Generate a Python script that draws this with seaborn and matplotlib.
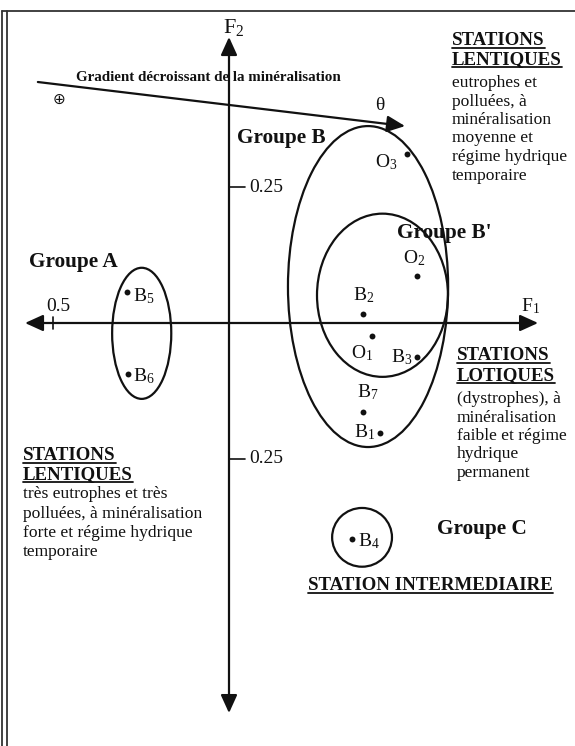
import matplotlib
matplotlib.use("Agg")
import matplotlib.pyplot as plt
import pandas as pd
import seaborn as sns
from matplotlib.patches import Ellipse

# Station coordinates on the first factorial plane (F1, F2)
stations = ["B1", "B2", "B3", "B4", "B5", "B6", "B7", "O1", "O2", "O3"]
f1 = [0.429, 0.381, 0.534, 0.349, -0.290, -0.287, 0.381, 0.406, 0.534, 0.506]
f2 = [-0.202, 0.017, -0.063, -0.397, 0.057, -0.094, -0.164, -0.024, 0.086, 0.311]

# Group envelopes: centre and extent in factor units
groups = ["A", "B", "B'", "C"]
group_f1 = [-0.248, 0.395, 0.436, 0.378]
group_f2 = [-0.019, 0.067, 0.051, -0.394]
group_w = [0.168, 0.455, 0.372, 0.170]
group_h = [0.241, 0.590, 0.300, 0.108]

# Axis graduations
f1_ticks = [-0.5]
f1_tick_labels = ["0.5"]
f2_ticks = [0.25, -0.25]
f2_tick_labels = ["0.25", "0.25"]

df = pd.DataFrame({"station": stations, "F1": f1, "F2": f2})

sns.set_theme(style="white")
plt.rcParams["font.family"] = ["Liberation Serif", "DejaVu Sans"]
plt.rcParams["mathtext.fontset"] = "custom"
plt.rcParams["mathtext.rm"] = "Liberation Serif"
plt.rcParams["mathtext.it"] = "Liberation Serif:italic"
plt.rcParams["mathtext.bf"] = "Liberation Serif:bold"

W, H = 575, 746
fig = plt.figure(figsize=(W / 100, H / 100), dpi=100)
fig.patch.set_facecolor("white")

# Factor-plane axes: origin and scale of the schematic
ox, oy, sx, sy = 229, 323, 352.0, 544.0
ax = fig.add_axes([0, 0, 1, 1])
ax.set_xlim(-ox / sx, (W - ox) / sx)
ax.set_ylim(-(H - oy) / sy, oy / sy)
ax.axis("off")

# Layout overlay in pixel units (top-left origin) for the annotations
lay = fig.add_axes([0, 0, 1, 1], zorder=3)
lay.set_xlim(0, W)
lay.set_ylim(H, 0)
lay.axis("off")

ink = "#111111"
lw = 1.6

# Frame
lay.plot([2, 2], [11, H], color="#333333", lw=1.3)
lay.plot([7, 7], [11, H], color="#333333", lw=1.3)
lay.plot([2, W], [11, 11], color="#333333", lw=1.3)

# Factor axes with arrowheads
head = "<|-|>,head_length=0.55,head_width=0.25"
ax.annotate("", xy=(0.878, 0), xytext=(-0.5795, 0),
            arrowprops=dict(arrowstyle=head, color=ink, lw=lw,
                            shrinkA=0, shrinkB=0, mutation_scale=20))
ax.annotate("", xy=(0, 0.5257), xytext=(0, -0.717),
            arrowprops=dict(arrowstyle=head, color=ink, lw=lw,
                            shrinkA=0, shrinkB=0, mutation_scale=20))

for t, lab in zip(f1_ticks, f1_tick_labels):
    ax.plot([t, t], [-0.011, 0.011], color=ink, lw=1.2)
    ax.annotate(lab, (t, 0), xytext=(5, 16), textcoords="offset pixels",
                ha="center", va="center", fontsize=14, color=ink)
for t, lab in zip(f2_ticks, f2_tick_labels):
    ax.plot([0, 0.045], [t, t], color=ink, lw=1.2)
    ax.annotate(lab, (0.045, t), xytext=(4, 0), textcoords="offset pixels",
                ha="left", va="center", fontsize=14, color=ink)

lay.text(223, 33, "F$_2$", fontsize=16, color=ink, va="baseline")
lay.text(521, 311, "F$_1$", fontsize=14, color=ink, va="baseline")

# Mineralisation gradient
ax.annotate("", xy=(0.500, 0.362), xytext=(-0.543, 0.443),
            arrowprops=dict(arrowstyle="-|>,head_length=0.55,head_width=0.25",
                            color=ink, lw=lw, shrinkA=0, shrinkB=0,
                            mutation_scale=20))
lay.text(76, 81, "Gradient décroissant de la minéralisation", fontsize=10.8,
         fontweight="bold", color=ink, va="baseline")
lay.text(59, 99, "⊕", fontsize=11, color=ink, ha="center", va="center",
         family=["DejaVu Sans"])
lay.text(380, 110, "θ", fontsize=14, color=ink, ha="center", va="baseline")

# Group envelopes
for cx, cy, w, h in zip(group_f1, group_f2, group_w, group_h):
    ax.add_patch(Ellipse((cx, cy), w, h, fill=False, ec=ink, lw=lw, zorder=2))

# Stations
sns.scatterplot(data=df, x="F1", y="F2", ax=ax, color=ink, s=18,
                linewidth=0, legend=False, zorder=5)
ax.axis("off")

label_offsets = {
    "B1": ((-5, 1), "right"),
    "B2": ((1, 19), "center"),
    "B3": ((-5, 0), "right"),
    "B4": ((6, -2), "left"),
    "B5": ((6, -4), "left"),
    "B6": ((5, -2), "left"),
    "B7": ((5, 20), "center"),
    "O1": ((-10, -17), "center"),
    "O2": ((-3, 18), "center"),
    "O3": ((-10, -8), "right"),
}
for name, x, y in zip(stations, f1, f2):
    off, ha = label_offsets[name]
    ax.annotate(f"{name[0]}$_{{{name[1:]}}}$", (x, y), xytext=off,
                textcoords="offset pixels", ha=ha, va="center",
                fontsize=14, color=ink)

# Group names
for x, y, s in [(29, 267, "Groupe A"), (237, 143, "Groupe B"),
                (397, 238, "Groupe B'"), (437, 534, "Groupe C")]:
    lay.text(x, y, s, fontsize=15.3, fontweight="bold", color=ink,
             va="baseline")

# Underlined headings
headings = [
    (452, 45, "STATIONS"), (452, 64, "LENTIQUES"),
    (457, 360, "STATIONS"), (457, 380, "LOTIQUES"),
    (23, 460, "STATIONS"), (23, 479, "LENTIQUES"),
    (308, 590, "STATION INTERMEDIAIRE"),
]
heading_texts = []
for x, y, s in headings:
    t = lay.text(x, y, s, fontsize=13.6, fontweight="bold", color=ink,
                 va="baseline")
    heading_texts.append((t, y))

# Descriptive notes
notes = [
    (452, [87, 105.5, 124, 142.5, 161, 179.5],
     ["eutrophes et", "polluées, à", "minéralisation", "moyenne et",
      "régime hydrique", "temporaire"]),
    (457, [403, 421.5, 440, 458.5, 477],
     ["(dystrophes), à", "minéralisation", "faible et régime", "hydrique",
      "permanent"]),
    (23, [498, 517.5, 537, 556],
     ["très eutrophes et très", "polluées, à minéralisation",
      "forte et régime hydrique", "temporaire"]),
]
for x, ys, lines in notes:
    for y, s in zip(ys, lines):
        lay.text(x, y, s, fontsize=12.6, color=ink, va="baseline")

fig.canvas.draw()
renderer = fig.canvas.get_renderer()
inv = lay.transData.inverted()
for t, y in heading_texts:
    bb = t.get_window_extent(renderer)
    (x0, _), (x1, _) = inv.transform([[bb.x0, bb.y0], [bb.x1, bb.y1]])
    lay.plot([x0, x1], [y + 3, y + 3], color=ink, lw=1.3)

fig.savefig("out.png", dpi=100, facecolor="white")
